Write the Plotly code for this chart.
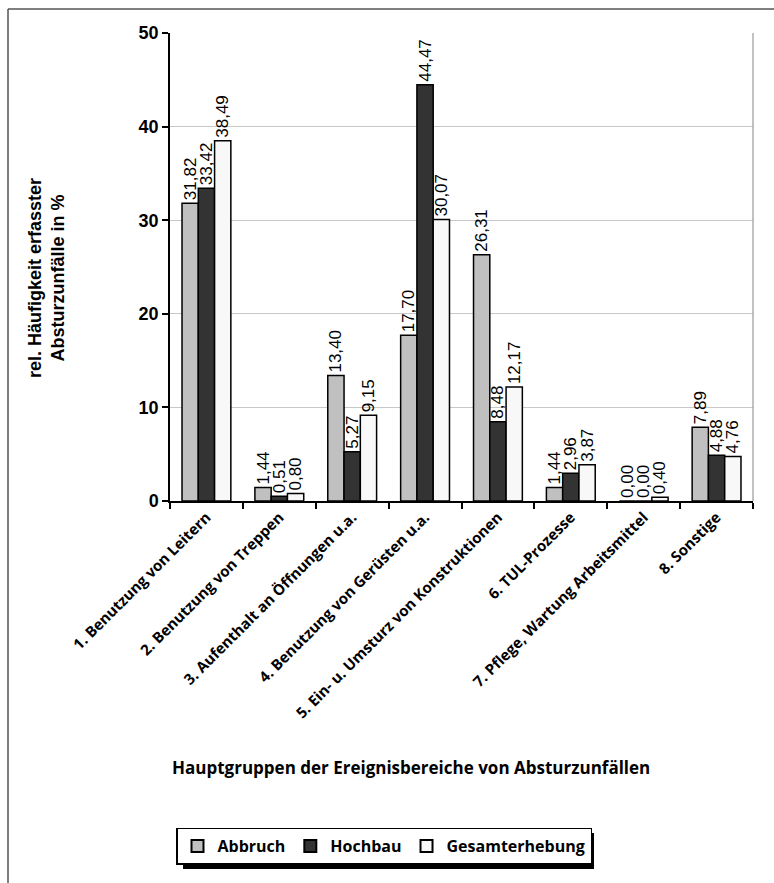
import plotly.graph_objects as go

categories = [
    "1. Benutzung von Leitern",
    "2. Benutzung von Treppen",
    "3. Aufenthalt an Öffnungen u.a.",
    "4. Benutzung von Gerüsten u.a.",
    "5. Ein- u. Umsturz von Konstruktionen",
    "6. TUL-Prozesse",
    "7. Pflege, Wartung Arbeitsmittel",
    "8. Sonstige",
]
abbruch = [31.82, 1.44, 13.40, 17.70, 26.31, 1.44, 0.00, 7.89]
hochbau = [33.42, 0.51, 5.27, 44.47, 8.48, 2.96, 0.00, 4.88]
gesamt = [38.49, 0.80, 9.15, 30.07, 12.17, 3.87, 0.40, 4.76]
series_names = ["Abbruch", "Hochbau", "Gesamterhebung"]
colors = ["#c0c0c0", "#333333", "#f8f8f8"]
y_ticks = [0, 10, 20, 30, 40, 50]

W, H = 774, 883
L, R, T, B = 170, 753, 33, 501

def fmt(v):
    return f"{v:.2f}".replace(".", ",")

fig = go.Figure()
for name, vals, col in zip(series_names, [abbruch, hochbau, gesamt], colors):
    fig.add_trace(go.Bar(
        x=categories, y=vals, name=name,
        marker=dict(color=col, line=dict(color="#000000", width=1.5)),
        text=[fmt(v) for v in vals], textposition="outside", textangle=-90,
        constraintext="none", cliponaxis=False,
        textfont=dict(family="Liberation Sans, Arial", size=17, color="#000000"),
    ))

def px_x(px):
    return (px - L) / (R - L)

def px_y(py):
    return (B - py) / (B - T)

shapes = [
    dict(type="line", xref="paper", yref="paper", x0=px_x(8), x1=px_x(8), y0=px_y(9), y1=px_y(884),
         line=dict(color="#555555", width=1.5)),
    dict(type="line", xref="paper", yref="paper", x0=px_x(8), x1=px_x(776), y0=px_y(9), y1=px_y(9),
         line=dict(color="#555555", width=1.5)),
    dict(type="line", xref="paper", yref="paper", x0=1, x1=1, y0=0, y1=1,
         line=dict(color="#999999", width=1.2)),
    # legend shadow
    dict(type="rect", xref="paper", yref="paper", x0=px_x(183), x1=px_x(594), y0=px_y(869), y1=px_y(833),
         fillcolor="#000000", line=dict(width=0), layer="below"),
]

annotations = [
    dict(text="rel. Häufigkeit erfasster<br>Absturzunfälle in %", xref="paper", yref="paper",
         x=px_x(46), y=px_y(278), showarrow=False, textangle=-90,
         font=dict(family="Liberation Sans, Arial", size=18, color="#000000", weight="bold"),
         xanchor="center", yanchor="middle"),
    dict(text="Hauptgruppen der Ereignisbereiche von Absturzunfällen", xref="paper", yref="paper",
         x=px_x(411), y=px_y(767), showarrow=False,
         font=dict(family="Open Sans", size=17, color="#000000", weight="bold"),
         xanchor="center", yanchor="middle"),
]

fig.update_layout(
    width=W, height=H,
    margin=dict(l=L, r=W - R, t=T, b=H - B),
    paper_bgcolor="#ffffff", plot_bgcolor="#ffffff",
    barmode="group", bargap=0.33, bargroupgap=0,
    showlegend=True,
    legend=dict(orientation="h", x=px_x(384), y=px_y(846), xanchor="center", yanchor="middle",
                bgcolor="#ffffff", bordercolor="#000000", borderwidth=1.5,
                font=dict(family="Open Sans", size=16, color="#000000", weight="bold"),
                itemsizing="constant", traceorder="normal", itemwidth=30),
    xaxis=dict(showgrid=False, showline=True, linecolor="#000000", linewidth=1.5,
               ticks="outside", tickson="boundaries", ticklen=6, tickcolor="#000000", tickwidth=1.5,
               tickangle=-45,
               tickfont=dict(family="Open Sans", size=15, color="#000000", weight="bold")),
    yaxis=dict(range=[0, 50], tickvals=y_ticks, showgrid=True, gridcolor="#c8c8c8", gridwidth=1.2,
               showline=True, linecolor="#000000", linewidth=1.5, zeroline=False,
               ticks="outside", ticklen=6, tickcolor="#000000", tickwidth=1.5,
               tickfont=dict(family="Liberation Sans, Arial", size=18, color="#000000", weight="bold")),
    shapes=shapes, annotations=annotations,
    font=dict(family="Liberation Sans, Arial"),
)

fig.write_html("out.html")
